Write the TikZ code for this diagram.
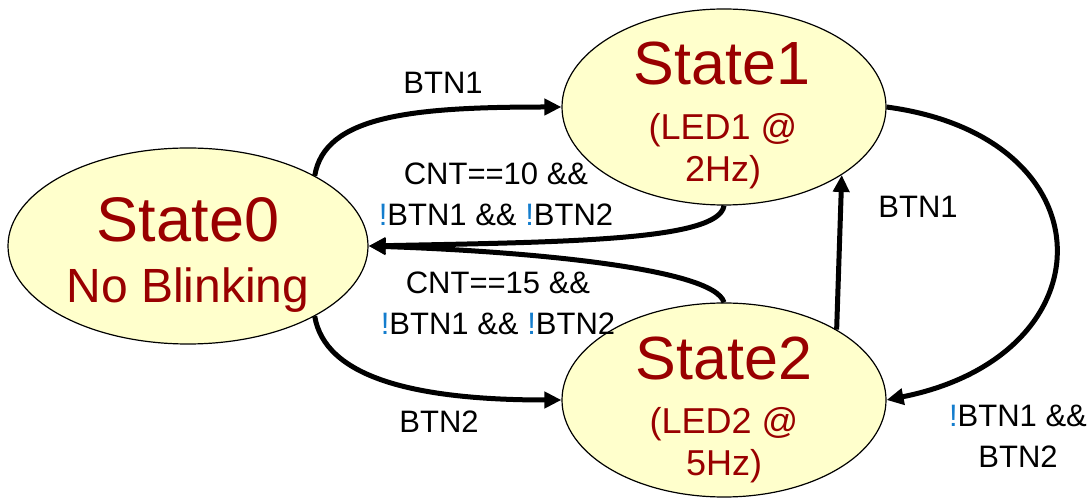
\documentclass[tikz,border=0pt]{standalone}
\usepackage{fontspec}
\setmainfont{Liberation Sans}
\usetikzlibrary{shapes.geometric,arrows.meta}

\definecolor{statefill}{RGB}{255,255,204}
\definecolor{statered}{RGB}{153,0,0}
\definecolor{notblue}{RGB}{20,125,205}
\newcommand{\notb}{\textcolor{notblue}{!}}

\begin{document}
\begin{tikzpicture}[x=1pt,y=1pt,
    state/.style={ellipse, draw=black, line width=1.2pt, fill=statefill, inner sep=0pt},
    title/.style={anchor=base, text=statered, font=\fontsize{61}{61}\selectfont},
    info/.style={anchor=base, text=statered, font=\fontsize{36}{36}\selectfont},
    lbl/.style={align=center, font=\fontsize{31}{41}\selectfont},
    trans/.style={line width=5pt, -{Triangle[length=17pt,width=16pt]}}]

        \useasboundingbox (0,0) rectangle (1089,498);

        \node[state, minimum width=360pt, minimum height=196pt] (s0) at (188,252) {};
        \node[state, minimum width=324pt, minimum height=196pt] (s1) at (724,391) {};
        \node[state, minimum width=324pt, minimum height=194pt] (s2) at (724,98) {};

        \node[title, font=\fontsize{63}{63}\selectfont] (s0name) at (188,256) {State0};
        \node[info, font=\fontsize{48}{48}\selectfont] (s0info) at (188,195) {No Blinking};

        \node[title] (s1name) at (722,413) {State1};
        \node[info] (s1info) at (723,358) {(LED1 @};
        \node[info] (s1freq) at (723,316) {2Hz)};

        \node[title] (s2name) at (724,118) {State2};
        \node[info] (s2info) at (724,65) {(LED2 @};
        \node[info] (s2freq) at (724,23) {5Hz)};

        \draw[trans] (s0.29) .. controls +(10,60) and +(-150,0) .. (s1.west);
        \draw[trans] (s1.south) .. controls +(-5,-35) and +(200,4) .. (s0.east);
        \draw[trans] (s2.north) .. controls +(-10,35) and +(150,-5) .. (s0.east);
        \draw[trans] (s0.-29) .. controls +(10,-60) and +(-150,0) .. (s2.west);
        \draw[trans] (s2.32) -- (s1.-30);
        \draw[trans] (s1.east) .. controls +(225,-30) and +(225,45) .. (s2.east);

        \node[lbl] (l01) at (443,415) {BTN1};
        \node[lbl] (l10) at (496,304) {CNT==10 \&\&\\\notb BTN1 \&\& \notb BTN2};
        \node[lbl] (l20) at (498,194.5) {CNT==15 \&\&\\\notb BTN1 \&\& \notb BTN2};
        \node[lbl] (l02) at (439,76) {BTN2};
        \node[lbl] (l21) at (918,291) {BTN1};
        \node[lbl] (l12) at (1018,61.5) {\notb BTN1 \&\&\\BTN2};

\end{tikzpicture}
\end{document}
